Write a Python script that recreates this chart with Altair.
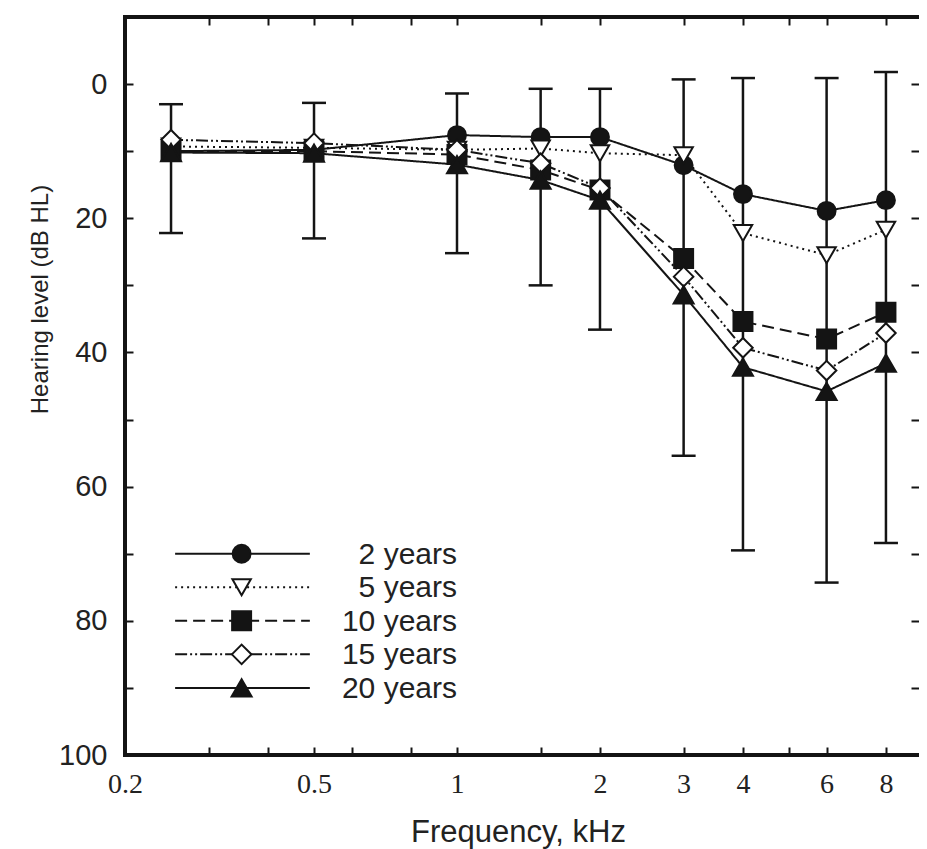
import altair as alt
import pandas as pd

# ---------------- data ----------------
FREQ = [0.25, 0.5, 1, 1.5, 2, 3, 4, 6, 8]          # kHz
SERIES = ["2 years", "5 years", "10 years", "15 years", "20 years"]

HL_2Y = [10.0, 9.8, 7.6, 7.9, 7.9, 12.1, 16.4, 18.9, 17.3]
HL_5Y = [9.3, 9.5, 9.8, 9.6, 10.3, 10.6, 22.2, 25.5, 21.7]
HL_10Y = [10.0, 10.0, 10.5, 12.8, 15.8, 26.0, 35.4, 38.0, 34.0]
HL_15Y = [8.3, 8.8, 9.8, 11.8, 15.5, 28.7, 39.3, 42.7, 37.1]
HL_20Y = [10.2, 10.3, 12.0, 14.3, 17.3, 31.4, 42.2, 45.8, 41.6]

ERR_TOP = [3.0, 2.8, 1.4, 0.7, 0.7, -0.7, -0.9, -0.9, -1.8]
ERR_BOTTOM = [22.2, 23.0, 25.2, 30.0, 36.6, 55.4, 69.5, 74.3, 68.4]

X_TICKS = [0.2, 0.3, 0.4, 0.5, 0.6, 0.8, 1, 1.5, 2, 3, 4, 5, 6, 8]
X_LABELS = [0.2, 0.5, 1, 2, 3, 4, 6, 8]
Y_TICKS = [0, 10, 20, 30, 40, 50, 60, 70, 80, 90, 100]
Y_LABEL_STEP = 20
X_DOMAIN = [0.2, 9.39]
Y_DOMAIN = [-10, 100]

# legend placement (in data units of the chart)
LEGEND_ROWS = [70, 75, 80, 85, 90]
LEGEND_X_START = 0.255
LEGEND_X_END = 0.49
LEGEND_X_MARK = 0.352
LEGEND_X_TEXT = 1.0

# ---------------- styles ----------------
INK = "#141414"
TEXT = "#222222"
SANS = "Arial, Liberation Sans, sans-serif"
SERIF = "Times New Roman, Liberation Serif, serif"
DASHES = [[1, 0], [2, 4], [12, 6], [12, 3, 2, 3, 2, 3], [1, 0]]
SHAPES = ["circle", "triangle-down", "square", "diamond", "triangle-up"]
FILLS = [INK, "white", INK, "white", INK]
SIZES = [320, 400, 250, 370, 390]

series_cols = [HL_2Y, HL_5Y, HL_10Y, HL_15Y, HL_20Y]
rows = []
for name, vals in zip(SERIES, series_cols):
    for f, v in zip(FREQ, vals):
        rows.append({"series": name, "freq": f, "level": v})
df = pd.DataFrame(rows)

err_df = pd.DataFrame({"freq": FREQ, "top": ERR_TOP, "bottom": ERR_BOTTOM})

frame_df = pd.DataFrame({
    "x": [X_DOMAIN[0], X_DOMAIN[0], X_DOMAIN[0]],
    "x2": [X_DOMAIN[1], X_DOMAIN[0], X_DOMAIN[1]],
    "y": [Y_DOMAIN[0], Y_DOMAIN[0], Y_DOMAIN[1]],
    "y2": [Y_DOMAIN[0], Y_DOMAIN[1], Y_DOMAIN[1]],
})

leg_df = pd.DataFrame({
    "series": SERIES,
    "ly": LEGEND_ROWS,
    "x0": [LEGEND_X_START] * len(SERIES),
    "x1": [LEGEND_X_END] * len(SERIES),
    "xm": [LEGEND_X_MARK] * len(SERIES),
    "xt": [LEGEND_X_TEXT] * len(SERIES),
})

xs = alt.Scale(type="log", domain=X_DOMAIN, nice=False)
ys = alt.Scale(domain=Y_DOMAIN, reverse=True, nice=False, zero=False)
dash_scale = alt.Scale(domain=SERIES, range=DASHES)
shape_scale = alt.Scale(domain=SERIES, range=SHAPES)
fill_scale = alt.Scale(domain=SERIES, range=FILLS)
size_scale = alt.Scale(domain=SERIES, range=SIZES)

x_label_list = ",".join(str(v) for v in X_LABELS)

x_main_axis = alt.Axis(
    orient="bottom", offset=-8, values=X_TICKS, format="~g",
    labelExpr=f"indexof([{x_label_list}], datum.value) >= 0 ? datum.label : ''",
    labelFont=SERIF, labelFontSize=28, labelColor=TEXT, labelPadding=15,
    labelFlush=False, labelOverlap=False,
    domain=False, ticks=True, tickSize=8, tickWidth=2, tickColor=INK,
    grid=False,
    title="Frequency, kHz", titleFont=SANS, titleFontSize=31,
    titleFontWeight="normal", titleColor=TEXT,
    titleX=393, titleY=94, titleBaseline="alphabetic", titleAlign="center",
)
y_main_axis = alt.Axis(
    orient="left", offset=-8, values=Y_TICKS,
    labelExpr=f"datum.value % {Y_LABEL_STEP} == 0 ? datum.label : ''",
    labelFont=SANS, labelFontSize=29, labelColor=TEXT, labelPadding=18,
    labelOverlap=False,
    domain=False, ticks=True, tickSize=8, tickWidth=2, tickColor=INK,
    grid=False,
    title="Hearing level (dB HL)", titleFont=SANS, titleFontSize=24,
    titleFontWeight="normal", titleColor=TEXT,
    titleX=-86, titleY=282, titleBaseline="alphabetic", titleAlign="center",
    titleAngle=270,
)
x_top_axis = alt.Axis(
    orient="top", offset=-8, values=X_TICKS, labels=False, domain=False,
    ticks=True, tickSize=8, tickWidth=2, tickColor=INK, grid=False, title=None,
)
y_right_axis = alt.Axis(
    orient="right", offset=-8, values=Y_TICKS, labels=False, domain=False,
    ticks=True, tickSize=8, tickWidth=2, tickColor=INK, grid=False, title=None,
)

frame = alt.Chart(frame_df).mark_rule(color=INK, strokeWidth=4, strokeCap="square").encode(
    x=alt.X("x:Q", scale=xs, axis=x_top_axis),
    x2="x2:Q",
    y=alt.Y("y:Q", scale=ys, axis=y_right_axis),
    y2="y2:Q",
)

err = alt.Chart(err_df).mark_rule(color=INK, strokeWidth=2.5).encode(
    x=alt.X("freq:Q", scale=xs, axis=None),
    y=alt.Y("top:Q", scale=ys, axis=None),
    y2="bottom:Q",
)

caps = alt.Chart(err_df).transform_fold(
    ["top", "bottom"], as_=["end", "val"]
).mark_tick(orient="horizontal", size=24, thickness=2.5, color=INK, opacity=1).encode(
    x=alt.X("freq:Q", scale=xs, axis=None),
    y=alt.Y("val:Q", scale=ys, axis=None),
)

lines = alt.Chart(df).mark_line(color=INK, strokeWidth=2).encode(
    x=alt.X("freq:Q", scale=xs, axis=x_main_axis),
    y=alt.Y("level:Q", scale=ys, axis=y_main_axis),
    strokeDash=alt.StrokeDash("series:N", scale=dash_scale, legend=None),
)

points = alt.Chart(df).mark_point(filled=True, stroke=INK, strokeWidth=2, opacity=1).encode(
    x=alt.X("freq:Q", scale=xs, axis=None),
    y=alt.Y("level:Q", scale=ys, axis=None),
    shape=alt.Shape("series:N", scale=shape_scale, legend=None),
    fill=alt.Fill("series:N", scale=fill_scale, legend=None),
    size=alt.Size("series:N", scale=size_scale, legend=None),
)

leg_lines = alt.Chart(leg_df).mark_rule(color=INK, strokeWidth=2).encode(
    x=alt.X("x0:Q", scale=xs, axis=None),
    x2="x1:Q",
    y=alt.Y("ly:Q", scale=ys, axis=None),
    strokeDash=alt.StrokeDash("series:N", scale=dash_scale, legend=None),
)

leg_pts = alt.Chart(leg_df).mark_point(filled=True, stroke=INK, strokeWidth=2, opacity=1).encode(
    x=alt.X("xm:Q", scale=xs, axis=None),
    y=alt.Y("ly:Q", scale=ys, axis=None),
    shape=alt.Shape("series:N", scale=shape_scale, legend=None),
    fill=alt.Fill("series:N", scale=fill_scale, legend=None),
    size=alt.Size("series:N", scale=size_scale, legend=None),
)

leg_txt = alt.Chart(leg_df).mark_text(
    align="right", baseline="middle", fontSize=30, font=SANS, color=TEXT, dy=1
).encode(
    x=alt.X("xt:Q", scale=xs, axis=None),
    y=alt.Y("ly:Q", scale=ys, axis=None),
    text="series:N",
)

chart = alt.layer(
    frame, err, caps, lines, points, leg_lines, leg_pts, leg_txt
).resolve_axis(
    x="independent", y="independent"
).properties(
    width=794, height=738,
    padding={"left": 117, "top": 9, "right": 0, "bottom": 94},
    autosize=alt.AutoSizeParams(type="none"),
    background="white",
).configure_view(stroke=None)

chart.save("out.html", embed_options={"renderer": "svg", "actions": False})
